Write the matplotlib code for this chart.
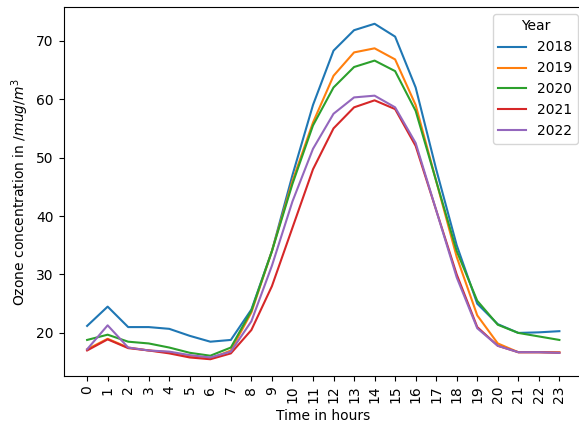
import matplotlib.pyplot as plt

# hourly mean ozone per year
horas = list(range(24))
anos = ["2018", "2019", "2020", "2021", "2022"]

o3_2018 = [21.2, 24.5, 21.0, 21.0, 20.7, 19.5, 18.5, 18.8, 24.0, 34.0, 47.0, 59.0,
           68.3, 71.8, 72.9, 70.7, 62.0, 48.0, 35.0, 25.0, 21.5, 20.0, 20.1, 20.3]
o3_2019 = [17.2, 19.0, 17.5, 17.0, 16.7, 16.0, 15.6, 17.0, 23.5, 34.0, 46.0, 56.0,
           64.0, 68.0, 68.7, 66.8, 59.0, 46.0, 33.0, 23.0, 18.2, 16.7, 16.7, 16.7]
o3_2020 = [18.8, 19.7, 18.5, 18.2, 17.5, 16.6, 16.1, 17.5, 23.8, 34.0, 45.5, 55.5,
           62.0, 65.5, 66.6, 64.8, 58.0, 46.0, 34.0, 25.5, 21.4, 20.0, 19.4, 18.8]
o3_2021 = [17.0, 18.9, 17.4, 17.0, 16.5, 15.8, 15.5, 16.5, 20.5, 28.0, 38.0, 48.0,
           55.0, 58.6, 59.8, 58.3, 52.0, 41.0, 30.0, 21.0, 17.8, 16.7, 16.7, 16.6]
o3_2022 = [17.2, 21.3, 17.5, 17.0, 16.8, 16.2, 15.8, 16.8, 22.0, 31.5, 42.5, 51.5,
           57.5, 60.3, 60.6, 58.6, 52.5, 41.0, 29.5, 20.8, 17.8, 16.7, 16.7, 16.6]

series = [o3_2018, o3_2019, o3_2020, o3_2021, o3_2022]

fig = plt.figure(figsize=(5.79, 4.23), dpi=100)
ax = fig.add_axes([63.5 / 579, 1 - 376 / 423, (583 - 63.5) / 579, (376 - 7) / 423])

for ano, valores in zip(anos, series):
    ax.plot(horas, valores, label=ano)

ax.set_xticks(horas)
ax.set_xticklabels([str(h) for h in horas], rotation=90)
ax.set_xlabel("Time in hours")
ax.set_ylabel(r"Ozone concentration in $/mug/m^3$")
ax.legend(title="Year", loc="upper right", bbox_to_anchor=(1.004, 1.0))

fig.savefig("out.png", dpi=100)
